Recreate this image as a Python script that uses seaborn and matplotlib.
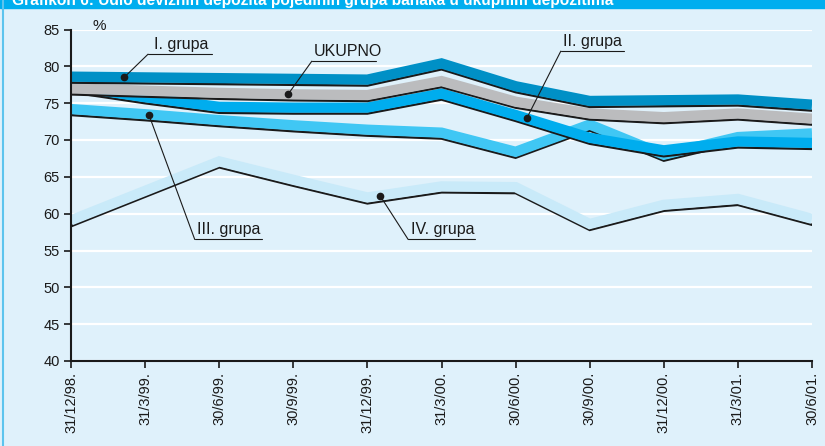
import matplotlib
matplotlib.use("Agg")
import matplotlib.pyplot as plt
import matplotlib.transforms as mtransforms
from matplotlib.patches import Rectangle
from matplotlib.lines import Line2D
import numpy as np
import pandas as pd
import seaborn as sns

# data
dates = ["31/12/98.", "31/3/99.", "30/6/99.", "30/9/99.", "31/12/99.", "31/3/00.",
         "30/6/00.", "30/9/00.", "31/12/00.", "31/3/01.", "30/6/01."]
grupa_1 = [78.6, 78.5, 78.4, 78.3, 78.2, 80.4, 77.3, 75.3, 75.4, 75.5, 74.8]
ukupno = [77.0, 76.7, 76.4, 76.2, 76.1, 78.0, 75.2, 73.6, 73.1, 73.6, 72.9]
grupa_2 = [77.3, 75.8, 74.5, 74.4, 74.4, 76.3, 73.4, 70.3, 68.6, 69.8, 69.6]
grupa_3 = [74.2, 73.5, 72.7, 72.0, 71.4, 71.0, 68.4, 72.1, 68.0, 70.4, 70.9]
grupa_4 = [59.1, 63.1, 67.1, 64.6, 62.2, 63.7, 63.6, 58.6, 61.2, 62.0, 59.3]
yticks = [40, 45, 50, 55, 60, 65, 70, 75, 80, 85]

bg = "#dff1fb"
header = "#00aeef"

sns.set_theme(style="white")
plt.rcParams["font.family"] = ["Liberation Sans", "DejaVu Sans"]

fig = plt.figure(figsize=(8.25, 4.46), dpi=100, facecolor=bg)
ax = fig.add_axes([71 / 825, 1 - 361 / 446, (812 - 71) / 825, (361 - 29.5) / 446])
ax.set_facecolor(bg)

# header strip with title (cut off at the top like the original)
fig.patches.append(Rectangle((0, 1 - 8 / 446), 1, 8 / 446, transform=fig.transFigure,
                             color=header, zorder=0))
fig.lines.append(Line2D([3 / 825, 3 / 825], [0, 1], transform=fig.transFigure,
                        color="#5cc4ee", lw=1.5))
fig.text(12 / 825, 1 - 4.5 / 446,
         "Grafikon 6: Udio deviznih depozita pojedinih grupa banaka u ukupnim depozitima",
         color="white", fontsize=11.2, fontweight="bold", va="baseline", ha="left")

x = np.arange(len(dates))
df = pd.DataFrame({"x": x, "I. grupa": grupa_1, "UKUPNO": ukupno, "II. grupa": grupa_2,
                   "III. grupa": grupa_3, "IV. grupa": grupa_4})

shadow = mtransforms.offset_copy(ax.transData, fig=fig, x=0, y=-6, units="dots")
series = [("IV. grupa", "#c9eaf9"), ("III. grupa", "#40c7f4"), ("II. grupa", "#00adee"),
          ("UKUPNO", "#bbbcbe"), ("I. grupa", "#0090c6")]
for name, col in series:
    sns.lineplot(data=df, x="x", y=name, ax=ax, color="#1a1a1a", lw=1.7,
                 transform=shadow, solid_joinstyle="miter")
    sns.lineplot(data=df, x="x", y=name, ax=ax, color=col, lw=7.4,
                 solid_joinstyle="miter", solid_capstyle="butt")

ax.set_xlim(0, len(dates) - 1)
ax.set_ylim(40, 85)
ax.set_yticks(yticks)
ax.set_xticks(x)
ax.set_xticklabels(dates, rotation=90)
ax.set_xlabel("")
ax.set_ylabel("")
ax.yaxis.grid(True, color="white", lw=1.6)
ax.set_axisbelow(True)
for s in ["top", "right"]:
    ax.spines[s].set_visible(False)
for s in ["left", "bottom"]:
    ax.spines[s].set_color("#1a1a1a")
    ax.spines[s].set_linewidth(1.5)
ax.tick_params(direction="out", length=5, width=1.2, color="#1a1a1a",
               labelsize=10.5, labelcolor="#1a1a1a", pad=3)
ax.tick_params(axis="y", left=True)
ax.tick_params(axis="x", bottom=True)

ax.text(0.29, 85.5, "%", fontsize=11, color="#1a1a1a", va="center", ha="left", clip_on=False)

# labels with leader lines
labels = [
    ("I. grupa", grupa_1, 0.72, 1.12, 81.65, 1.04, 1.90),
    ("UKUPNO", ukupno, 2.93, 3.27, 80.7, 3.25, 4.12),
    ("II. grupa", grupa_2, 6.15, 6.64, 82.06, 6.61, 7.46),
    ("III. grupa", grupa_3, 1.05, 1.70, 56.5, 1.67, 2.58),
    ("IV. grupa", grupa_4, 4.17, 4.59, 56.5, 4.55, 5.45),
]
for text, vals, dx, tx, uy, u0, u1 in labels:
    dy = np.interp(dx, x, vals)
    ax.plot([u0, u1], [uy, uy], color="#1a1a1a", lw=0.8, zorder=5)
    ax.plot([u0, dx], [uy, dy], color="#1a1a1a", lw=0.8, zorder=5)
    ax.plot([dx], [dy], "o", color="#1a1a1a", ms=4.5, zorder=6)
    ax.text(tx, uy + 0.3, text, fontsize=11.5, color="#1a1a1a", va="bottom", ha="left")

fig.savefig("out.png", dpi=100, facecolor=bg)
